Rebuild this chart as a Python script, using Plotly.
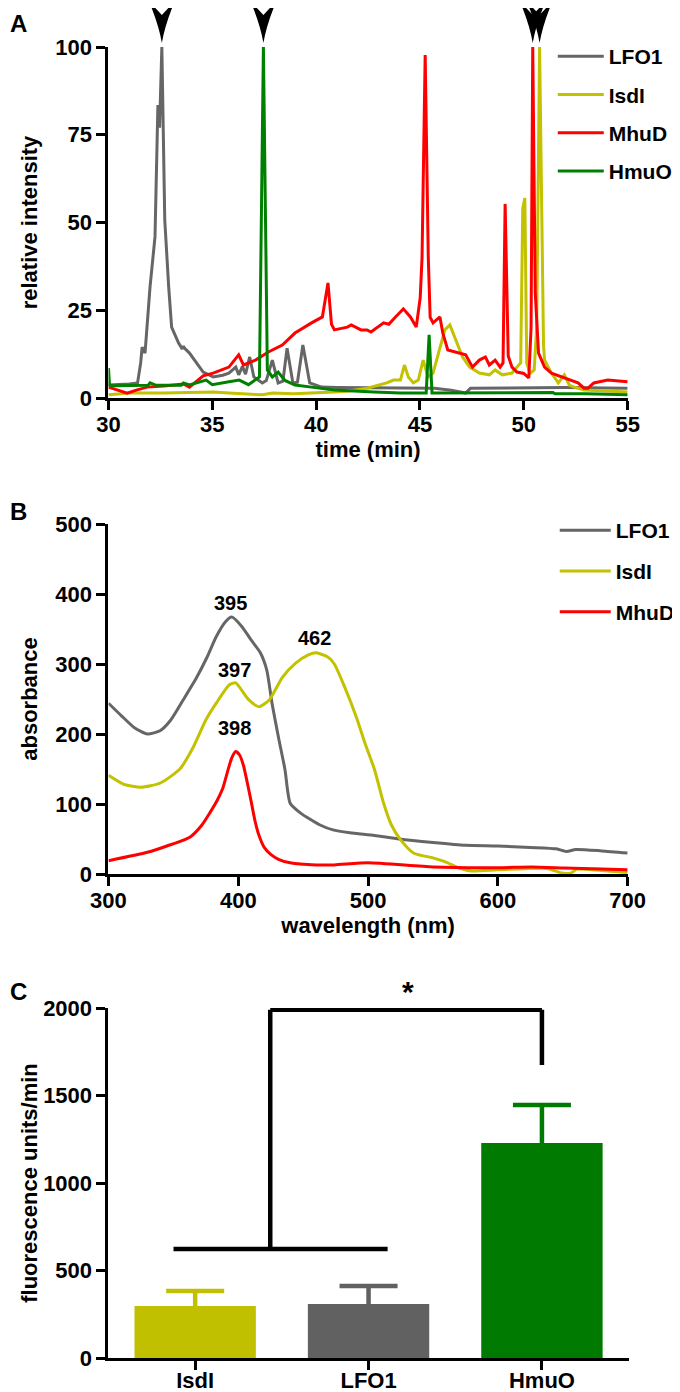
import plotly.graph_objects as go

FONT = "Liberation Sans, Arial, Helvetica, sans-serif"

# ---------------- Panel A: HPLC traces (time in min, relative intensity) ----------------
a_lfo1_t = [30.0, 30.5, 31.0, 31.4, 31.55, 31.62, 31.76, 32.0, 32.24, 32.38, 32.46, 32.57, 32.71, 32.9,
            33.04, 33.37, 33.55, 33.61, 33.66, 33.9, 34.23, 34.56, 35.04, 35.5, 35.8, 36.13, 36.27, 36.45,
            36.6, 36.8, 37.0, 37.22, 37.41, 37.6, 37.89, 38.17, 38.4, 38.6, 38.88, 39.1, 39.36, 39.69,
            40.26, 41.0, 43.0, 45.0, 45.7, 46.5, 47.2, 47.43, 50.0, 52.0, 55.0]
a_lfo1_v = [3.7, 3.8, 4.0, 4.3, 10.0, 14.5, 12.8, 31.6, 45.9, 83.5, 77.0, 100.0, 50.7, 31.6,
            20.2, 15.7, 14.0, 14.8, 14.2, 12.8, 10.0, 7.4, 6.0, 6.5, 7.1, 8.8, 6.6, 9.0,
            6.8, 11.7, 6.0, 5.0, 4.3, 5.0, 10.8, 4.3, 4.8, 14.2, 4.3, 4.5, 15.1, 4.3,
            3.1, 3.0, 2.9, 2.9, 2.8, 2.2, 1.4, 2.8, 3.0, 3.0, 2.8]

a_isdi_t = [30.0, 31.05, 32.66, 34.0, 35.04, 35.8, 37.41, 37.9, 38.9, 40.88, 41.5, 42.45, 43.4, 43.73,
            44.06, 44.25, 44.44, 44.68, 44.92, 45.15, 45.39, 45.63, 45.96, 46.2, 46.44, 46.72, 47.05,
            47.39, 47.86, 48.34, 48.62, 48.96, 49.43, 49.67, 49.85, 49.95, 50.05, 50.14, 50.3, 50.5,
            50.62, 50.76, 50.95, 51.0, 51.33, 51.66, 51.95, 52.19, 52.42, 52.9, 55.0]
a_isdi_v = [0.9, 1.4, 1.4, 1.6, 1.7, 1.4, 0.9, 1.4, 1.2, 1.7, 1.9, 2.8, 4.3, 5.1,
            5.1, 9.4, 6.0, 4.3, 5.1, 10.8, 6.0, 7.1, 14.5, 19.4, 20.8, 16.5, 11.7,
            8.8, 7.1, 6.6, 8.0, 6.6, 7.1, 8.8, 10.0, 54.0, 57.0, 10.0, 7.0, 8.0,
            20.0, 100.0, 15.0, 10.8, 7.1, 4.3, 6.6, 3.7, 3.1, 2.3, 1.7]

a_mhud_t = [30.0, 30.43, 30.9, 31.38, 31.86, 32.66, 33.61, 33.9, 34.23, 34.56, 35.04, 35.8, 36.27,
            36.5, 37.08, 37.7, 38.37, 38.98, 39.78, 40.02, 40.3, 40.57, 40.74, 40.88, 41.5, 41.69,
            42.16, 42.45, 42.64, 43.25, 43.5, 43.82, 44.2, 44.54, 44.82, 45.01, 45.1, 45.25, 45.4,
            45.49, 45.63, 45.96, 46.1, 46.34, 46.72, 47.2, 47.53, 47.86, 48.15, 48.34, 48.62, 48.86,
            49.0, 49.1, 49.25, 49.43, 49.67, 50.0, 50.24, 50.35, 50.43, 50.55, 50.71, 51.0, 51.33,
            51.95, 52.61, 52.9, 53.09, 53.37, 54.04, 55.0]
a_mhud_v = [3.1, 2.3, 1.4, 2.3, 3.1, 3.4, 4.0, 3.1, 4.6, 6.3, 7.1, 8.8, 12.3,
            9.4, 10.8, 13.1, 15.1, 18.5, 21.4, 22.2, 23.1, 32.8, 21.0, 19.4, 20.2, 20.8,
            19.4, 19.4, 18.8, 21.4, 21.0, 23.1, 25.4, 23.1, 20.2, 28.5, 40.0, 97.7, 40.0,
            23.0, 21.4, 23.1, 18.5, 13.7, 13.1, 12.3, 8.8, 10.8, 11.7, 9.4, 10.8, 8.8,
            10.0, 55.3, 12.0, 8.8, 7.4, 7.0, 5.7, 20.0, 100.0, 30.0, 12.8, 8.8, 7.1,
            5.7, 4.3, 2.8, 2.8, 4.3, 5.1, 4.6]

a_hmuo_t = [30.0, 30.05, 30.2, 31.0, 31.9, 32.0, 32.3, 33.0, 33.5, 33.61, 33.9, 34.7, 35.0, 35.8,
            36.3, 36.74, 37.27, 37.46, 37.65, 37.89, 38.17, 38.5, 38.98, 39.78, 40.88, 42.78, 44.06,
            45.3, 45.44, 45.58, 46.5, 48.0, 50.0, 51.4, 51.5, 53.0, 55.0]
a_hmuo_v = [8.5, 3.7, 3.5, 3.5, 3.6, 4.3, 3.6, 3.6, 3.6, 4.3, 3.7, 5.1, 3.8, 4.6,
            5.1, 3.8, 6.0, 100.0, 8.0, 6.0, 7.4, 5.0, 3.7, 3.1, 2.3, 1.7, 1.4,
            1.4, 18.0, 1.4, 1.4, 1.4, 1.4, 1.6, 1.2, 1.2, 0.9]

# ---------------- Panel B: absorbance spectra ----------------
b_lfo1_wl = [300, 310, 320, 330, 340, 348, 358, 368, 376, 383, 390, 395, 403, 410, 417, 422, 426,
             431, 436, 440, 448, 463, 473, 486, 505, 524, 550, 575, 600, 625, 645, 653, 660, 680, 700]
b_lfo1_ab = [244, 226, 209, 200, 205, 220, 250, 281, 310, 339, 360, 367, 353, 334, 316, 291, 244,
             195, 149, 101, 87, 70, 63, 59, 55, 50, 45, 41, 40, 38, 36, 32, 35, 33, 30]

b_isdi_wl = [300, 312, 325, 340, 355, 365, 375, 383, 393, 398, 408, 416, 424, 434, 444, 454, 460,
             469, 474, 482, 491, 498, 505, 512, 518, 525, 535, 550, 560, 570, 580, 600, 638, 648,
             656, 661, 680, 700]
b_isdi_ab = [141, 128, 124, 130, 150, 180, 220, 244, 270, 273, 249, 239, 249, 281, 301, 313, 316,
             310, 300, 267, 224, 185, 149, 101, 70, 49, 30, 23, 17, 8.6, 4.3, 6, 8, 2,
             1, 7, 5, 2]

b_mhud_wl = [300, 330, 345, 363, 372, 378, 384, 388, 392, 395, 398, 401, 404, 407, 410, 413, 416,
             420, 425, 431, 440, 460, 474, 500, 550, 600, 626, 651, 680, 700]
b_mhud_ab = [19, 31, 40, 53, 70, 87, 106, 122, 148, 166, 175, 170, 155, 130, 103, 75, 55,
             38, 28, 21, 16, 13, 13, 16, 10, 9, 10, 8.6, 7, 6]

b_peak_text = ["395", "397", "462", "398"]
b_peak_wl = [394, 397, 459, 397]
b_peak_ab = [387, 291, 337, 209]

# ---------------- Panel C: fluorescence rates (mean, SEM) ----------------
c_cats = ["IsdI", "LFO1", "HmuO"]
c_vals = [297, 309, 1229]
c_errs = [86, 102, 217]
c_sig_low = 623      # lower bracket level
c_sig_top = 1990     # upper bracket level
c_sig_right = 1674   # right leg end
c_sig_star = 2200    # significance star
c_ymax = 2000

GRAY = "#666666"
YEL = "#c2c200"
RED = "#ff0000"
GREEN = "#008000"
bar_colors = ["#c0c000", "#616161", "#007a00"]

# layout geometry: the page body adds an 8px offset, so the figure is 672x1384
OFF = 8
W, H = 680 - OFF, 1392 - OFF


def px(p):
    return (p - OFF) / W


def py(p):
    return 1 - (p - OFF) / H


XDOM = [px(110), px(637)]
XDOM_C = [px(110), px(638)]
YDOM_A = [py(398), py(47)]
YDOM_B = [py(874), py(524)]
YDOM_C = [py(1358), py(1008)]

fig = go.Figure()

lw = 3
for name, t, v, col in [("LFO1", a_lfo1_t, a_lfo1_v, GRAY),
                        ("IsdI", a_isdi_t, a_isdi_v, YEL),
                        ("MhuD", a_mhud_t, a_mhud_v, RED),
                        ("HmuO", a_hmuo_t, a_hmuo_v, GREEN)]:
    fig.add_trace(go.Scatter(x=t, y=v, mode="lines", name=name, legendgroup="A" + name,
                             line=dict(color=col, width=lw), xaxis="x", yaxis="y", legend="legend"))

for name, wl, ab, col in [("LFO1", b_lfo1_wl, b_lfo1_ab, GRAY),
                          ("IsdI", b_isdi_wl, b_isdi_ab, YEL),
                          ("MhuD", b_mhud_wl, b_mhud_ab, RED)]:
    fig.add_trace(go.Scatter(x=wl, y=ab, mode="lines", name=name, legendgroup="B" + name,
                             line=dict(color=col, width=lw, shape="spline", smoothing=0.6),
                             xaxis="x2", yaxis="y2", legend="legend2"))

for cat, val, err, col in zip(c_cats, c_vals, c_errs, bar_colors):
    fig.add_trace(go.Bar(x=[cat], y=[val], width=0.7, marker=dict(color=col, line=dict(width=0)),
                         error_y=dict(type="data", array=[err], color=col, thickness=4.5, width=29),
                         showlegend=False, xaxis="x3", yaxis="y3"))

tickfont = dict(family=FONT, size=22, color="black", weight="bold")
titlefont = dict(family=FONT, size=22, color="black", weight="bold")
ax = dict(showline=True, linecolor="black", linewidth=3, ticks="outside", ticklen=9, tickwidth=3,
          tickcolor="black", showgrid=False, zeroline=False, tickfont=tickfont, automargin=False)
xax = dict(ax, ticklabelstandoff=-4)
legfont = dict(family=FONT, size=21, color="black", weight="bold")

fig.update_layout(
    template="none",
    width=W, height=H, margin=dict(l=0, r=0, t=0, b=0),
    paper_bgcolor="white", plot_bgcolor="white", barmode="overlay",
    font=dict(family=FONT, color="black"),
    xaxis=dict(xax, domain=XDOM, anchor="y", range=[30, 55], tickvals=[30, 35, 40, 45, 50, 55],
               title=dict(text="time (min)", font=titlefont, standoff=4)),
    yaxis=dict(ax, domain=YDOM_A, anchor="x", range=[0, 100], tickvals=[0, 25, 50, 75, 100],
               title=dict(text="relative intensity", font=titlefont, standoff=12)),
    xaxis2=dict(xax, domain=XDOM, anchor="y2", range=[300, 700], tickvals=[300, 400, 500, 600, 700],
                title=dict(text="wavelength (nm)", font=titlefont, standoff=4)),
    yaxis2=dict(ax, domain=YDOM_B, anchor="x2", range=[0, 500], tickvals=[0, 100, 200, 300, 400, 500],
                title=dict(text="absorbance", font=titlefont, standoff=12)),
    xaxis3=dict(xax, domain=XDOM_C, anchor="y3", type="category", range=[-0.5, 2.5],
                categoryorder="array", categoryarray=c_cats, ticklabelstandoff=-8),
    yaxis3=dict(ax, domain=YDOM_C, anchor="x3", range=[0, c_ymax], tickvals=[0, 500, 1000, 1500, 2000],
                title=dict(text="fluorescence units/min", font=titlefont, standoff=0)),
    legend=dict(x=px(561), y=py(36), xanchor="left", yanchor="top", bgcolor="rgba(0,0,0,0)",
                font=legfont, itemwidth=46, tracegroupgap=8),
    legend2=dict(x=px(563), y=py(510), xanchor="left", yanchor="top", bgcolor="rgba(0,0,0,0)",
                 font=legfont, itemwidth=51, tracegroupgap=10.5),
)

# arrowheads above the dominant peak of each chromatogram (panel A)
arrow_path = "M0,0 Q-3,18 -13,42 L0,28 L13,42 Q3,18 0,0 Z"
for t, v in [(a_lfo1_t, a_lfo1_v), (a_hmuo_t, a_hmuo_v), (a_mhud_t, a_mhud_v), (a_isdi_t, a_isdi_v)]:
    tpk = t[v.index(max(v))]
    fig.add_shape(type="path", path=arrow_path, xref="x", yref="paper", xsizemode="pixel",
                  ysizemode="pixel", xanchor=tpk, yanchor=py(43), fillcolor="black",
                  line=dict(width=0))

# peak labels (panel B)
for txt, xw, ya in zip(b_peak_text, b_peak_wl, b_peak_ab):
    fig.add_annotation(x=xw, y=ya, xref="x2", yref="y2", text=txt, showarrow=False,
                       font=dict(family=FONT, size=20, color="black", weight="bold"))

# significance bracket (panel C)
br = dict(type="line", xref="x3", yref="y3", line=dict(color="black", width=4.5))
fig.add_shape(br, x0=-0.125, x1=1.11, y0=c_sig_low, y1=c_sig_low)
fig.add_shape(br, x0=0.433, x1=0.433, y0=c_sig_low, y1=c_sig_top)
fig.add_shape(br, x0=0.433, x1=2.0, y0=c_sig_top, y1=c_sig_top)
fig.add_shape(br, x0=2.0, x1=2.0, y0=c_sig_top, y1=c_sig_right)
fig.add_annotation(x=1.225, y=c_sig_star / c_ymax, xref="x3", yref="y3 domain", text="*",
                   showarrow=False, font=dict(family=FONT, size=30, color="black", weight="bold"))

# panel letters
for letter, ypx in [("A", 23), ("B", 511), ("C", 991)]:
    fig.add_annotation(x=0, y=py(ypx), xref="paper", yref="paper", text=letter, showarrow=False,
                       xanchor="left", yanchor="middle",
                       font=dict(family=FONT, size=24, color="black", weight="bold"))

fig.write_html("out.html")
